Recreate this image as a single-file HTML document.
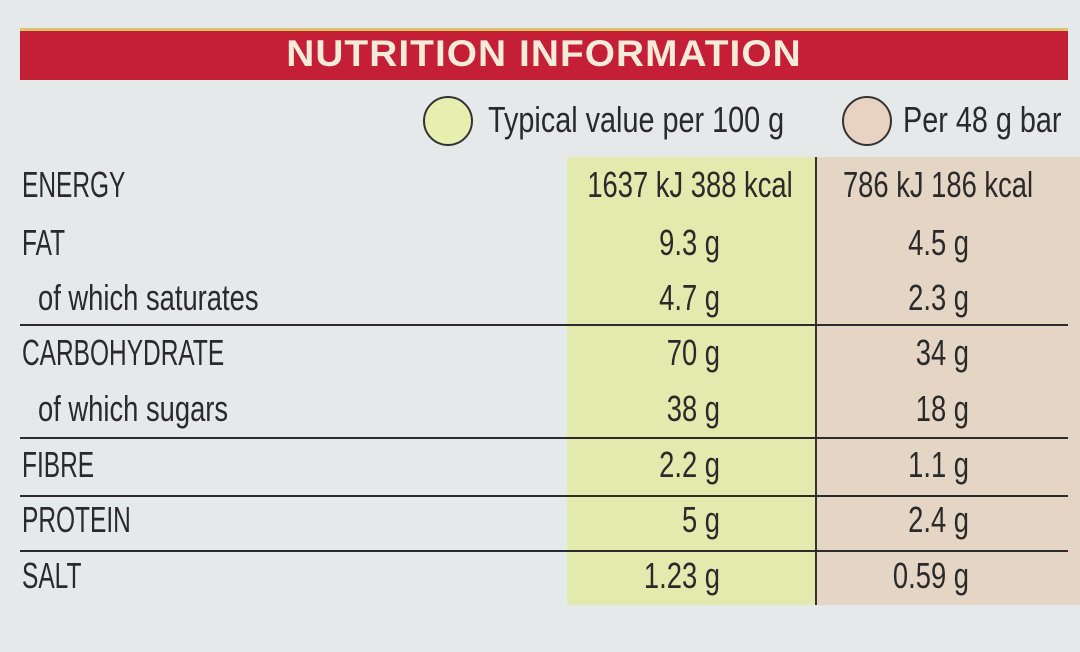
<!DOCTYPE html>
<html><head><meta charset="utf-8"><style>
body{margin:0;width:1080px;height:652px;overflow:hidden;background:#e5e9e9;font-family:"Liberation Sans",sans-serif;position:relative}
.a{position:absolute;white-space:nowrap}
.t{font-size:36px;color:#2a2a2a;line-height:40px;transform:scaleX(0.76)}
.caps{transform:scaleX(0.68)}
.l{transform-origin:left center}
.r{transform-origin:right center;text-align:right}
.c{transform-origin:center center;text-align:center}
.hl{position:absolute;left:20px;width:1048px;height:2px;background:#2b2b2b}
</style></head><body>
<div class="a" style="left:20px;top:28px;width:1048px;height:52px;background:#c51f38;border-top:3px solid #d9c66a;box-sizing:border-box"></div>
<div class="a" style="left:20px;top:33px;width:1048px;text-align:center;font-size:37px;font-weight:bold;color:#f4ecd8;letter-spacing:1px;transform:scaleX(1.05)">NUTRITION INFORMATION</div>

<div class="a" style="left:423px;top:96px;width:46px;height:46px;border-radius:50%;background:#e8edb0;border:2px solid #333"></div>
<div class="a t l" style="left:488px;top:100px;transform:scaleX(0.8)">Typical value per 100 g</div>
<div class="a" style="left:842px;top:96px;width:46px;height:46px;border-radius:50%;background:#e8d3c3;border:2px solid #333"></div>
<div class="a t l" style="left:903px;top:100px;transform:scaleX(0.8)">Per 48 g bar</div>

<div class="a" style="left:567px;top:157px;width:249px;height:448px;background:#e2eaad"></div>
<div class="a" style="left:817px;top:157px;width:263px;height:448px;background:#e5d5c5"></div>
<div class="a" style="left:815px;top:157px;width:2px;height:448px;background:#333"></div>

<div class="hl" style="top:324px"></div>
<div class="hl" style="top:437px"></div>
<div class="hl" style="top:495px"></div>
<div class="hl" style="top:550px"></div>

<div id="rows"></div>
<script>
const labels=["ENERGY","FAT","  of which saturates","CARBOHYDRATE","  of which sugars","FIBRE","PROTEIN","SALT"];
const per100=["1637 kJ 388 kcal","9.3 g","4.7 g","70 g","38 g","2.2 g","5 g","1.23 g"];
const perBar=["786 kJ 186 kcal","4.5 g","2.3 g","34 g","18 g","1.1 g","2.4 g","0.59 g"];
const ys=[187,245,300,355,411,467,522,578];
const root=document.getElementById('rows');
labels.forEach((lab,i)=>{
  const y=ys[i]-22;
  const a=document.createElement('div');
  const sub=lab.startsWith('  ');
  a.className='a t l'+(sub?'':' caps');
  
  
  a.style.left=(sub?38:22)+'px';a.style.top=y+'px';a.textContent=lab.trim();root.appendChild(a);
  const b=document.createElement('div');
  
  
  if(i===0){b.className='a t c';b.style.left='540px';b.style.width='300px';}
  else{b.className='a t r';b.style.left='420px';b.style.width='300px';}
  b.style.top=y+'px';b.textContent=per100[i];root.appendChild(b);
  const c=document.createElement('div');
  
  
  if(i===0){c.className='a t c';c.style.left='788px';c.style.width='300px';}
  else{c.className='a t r';c.style.left='669px';c.style.width='300px';}
  c.style.top=y+'px';c.textContent=perBar[i];root.appendChild(c);
});
</script>
</body></html>
